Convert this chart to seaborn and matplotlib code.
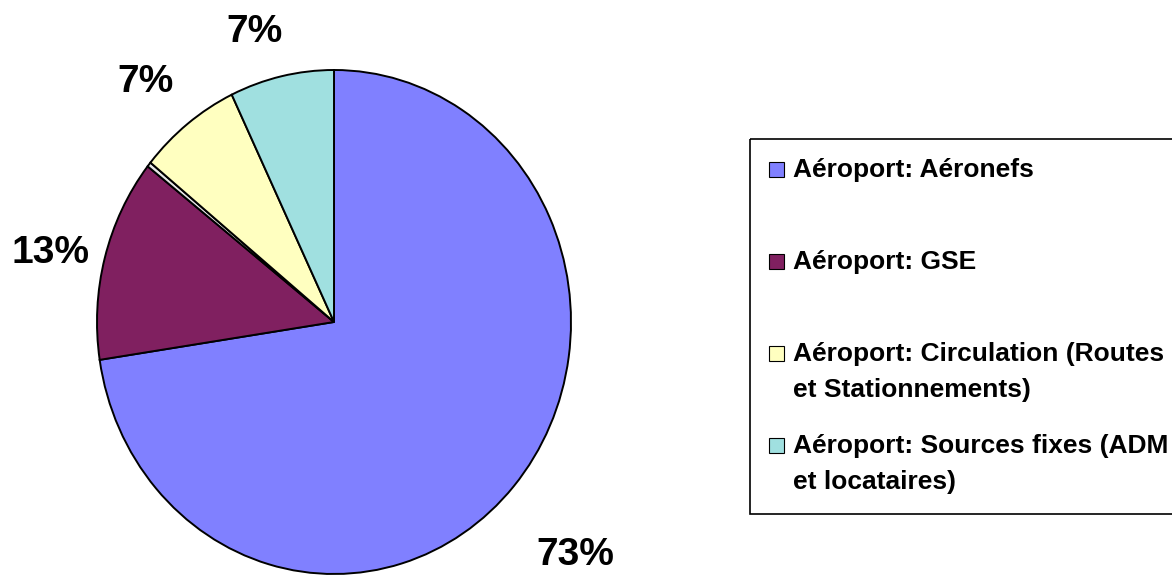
import numpy as np
import matplotlib
matplotlib.use("Agg")
import matplotlib.pyplot as plt
import matplotlib.transforms as mtransforms
from matplotlib.patches import Rectangle
import seaborn as sns

# slices, clockwise from 12 o'clock (the tiny unnamed one has no legend entry)
categories = [
    "Aéroport: Aéronefs",
    "Aéroport: GSE",
    "",
    "Aéroport: Circulation (Routes\net Stationnements)",
    "Aéroport: Sources fixes (ADM\net locataires)",
]
shares = [72.6, 13.0, 0.3, 7.0, 7.1]
colors = ["#8080FF", "#802060", "#E6E6E6", "#FFFFC0", "#A0E0E0"]

sns.set_theme(style="white")
plt.rcParams["font.family"] = ["Liberation Sans", "DejaVu Sans"]
plt.rcParams["font.weight"] = "bold"
plt.rcParams["text.color"] = "black"

W, H = 1172, 575
fig = plt.figure(figsize=(W / 100, H / 100), dpi=100)
fig.patch.set_facecolor("white")
# pixel coordinates, origin top-left
px = mtransforms.Affine2D().scale(1 / W, -1 / H).translate(0, 1) + fig.transFigure

# pie axes (slightly taller than wide, as in the original)
cx, cy, rx, ry = 334, 322, 237, 252
ax = fig.add_axes([(cx - rx) / W, 1 - (cy + ry) / H, 2 * rx / W, 2 * ry / H])


def pct_fmt(p):
    return "%.0f%%" % p if p >= 1 else ""


wedges, texts, autotexts = ax.pie(
    shares,
    colors=colors,
    startangle=90,
    counterclock=False,
    autopct=pct_fmt,
    pctdistance=1.22,
    wedgeprops=dict(edgecolor="black", linewidth=1.4),
    textprops=dict(fontsize=28, fontweight="bold", color="black"),
)
ax.set_aspect("auto")
ax.set_xlim(-1, 1)
ax.set_ylim(-1, 1)
ax.axis("off")
for w in wedges:
    w.set_clip_on(False)

# label placement: distance from centre and small angular nudge per slice
label_dist = [1.37, 1.23, 1.2, 1.25, 1.21]
label_nudge = [-1.2, 1.4, 0, 1.3, 3.4]
for w, t, d, n in zip(wedges, autotexts, label_dist, label_nudge):
    a = np.deg2rad((w.theta1 + w.theta2) / 2 + n)
    t.set_position((d * np.cos(a), d * np.sin(a) - 0.012))

# legend box, drawn by hand so markers sit on the first text line
fig.add_artist(Rectangle((750, 139), 450, 375, transform=px, fill=False,
                         edgecolor="black", linewidth=1.2, clip_on=False))
baselines = [177, 269, 361, 453]
line_step = 35.5
row = 0
for name, col in zip(categories, colors):
    if not name:
        continue
    b = baselines[row]
    fig.add_artist(Rectangle((769, b - 15), 15, 15, transform=px,
                             facecolor=col, edgecolor="black", linewidth=0.8))
    for k, line in enumerate(name.split("\n")):
        fig.text(793, b + k * line_step, line, transform=px, fontsize=19,
                 fontweight="bold", va="baseline", ha="left", color="black")
    row += 1

fig.savefig("out.png", dpi=100, facecolor="white")
